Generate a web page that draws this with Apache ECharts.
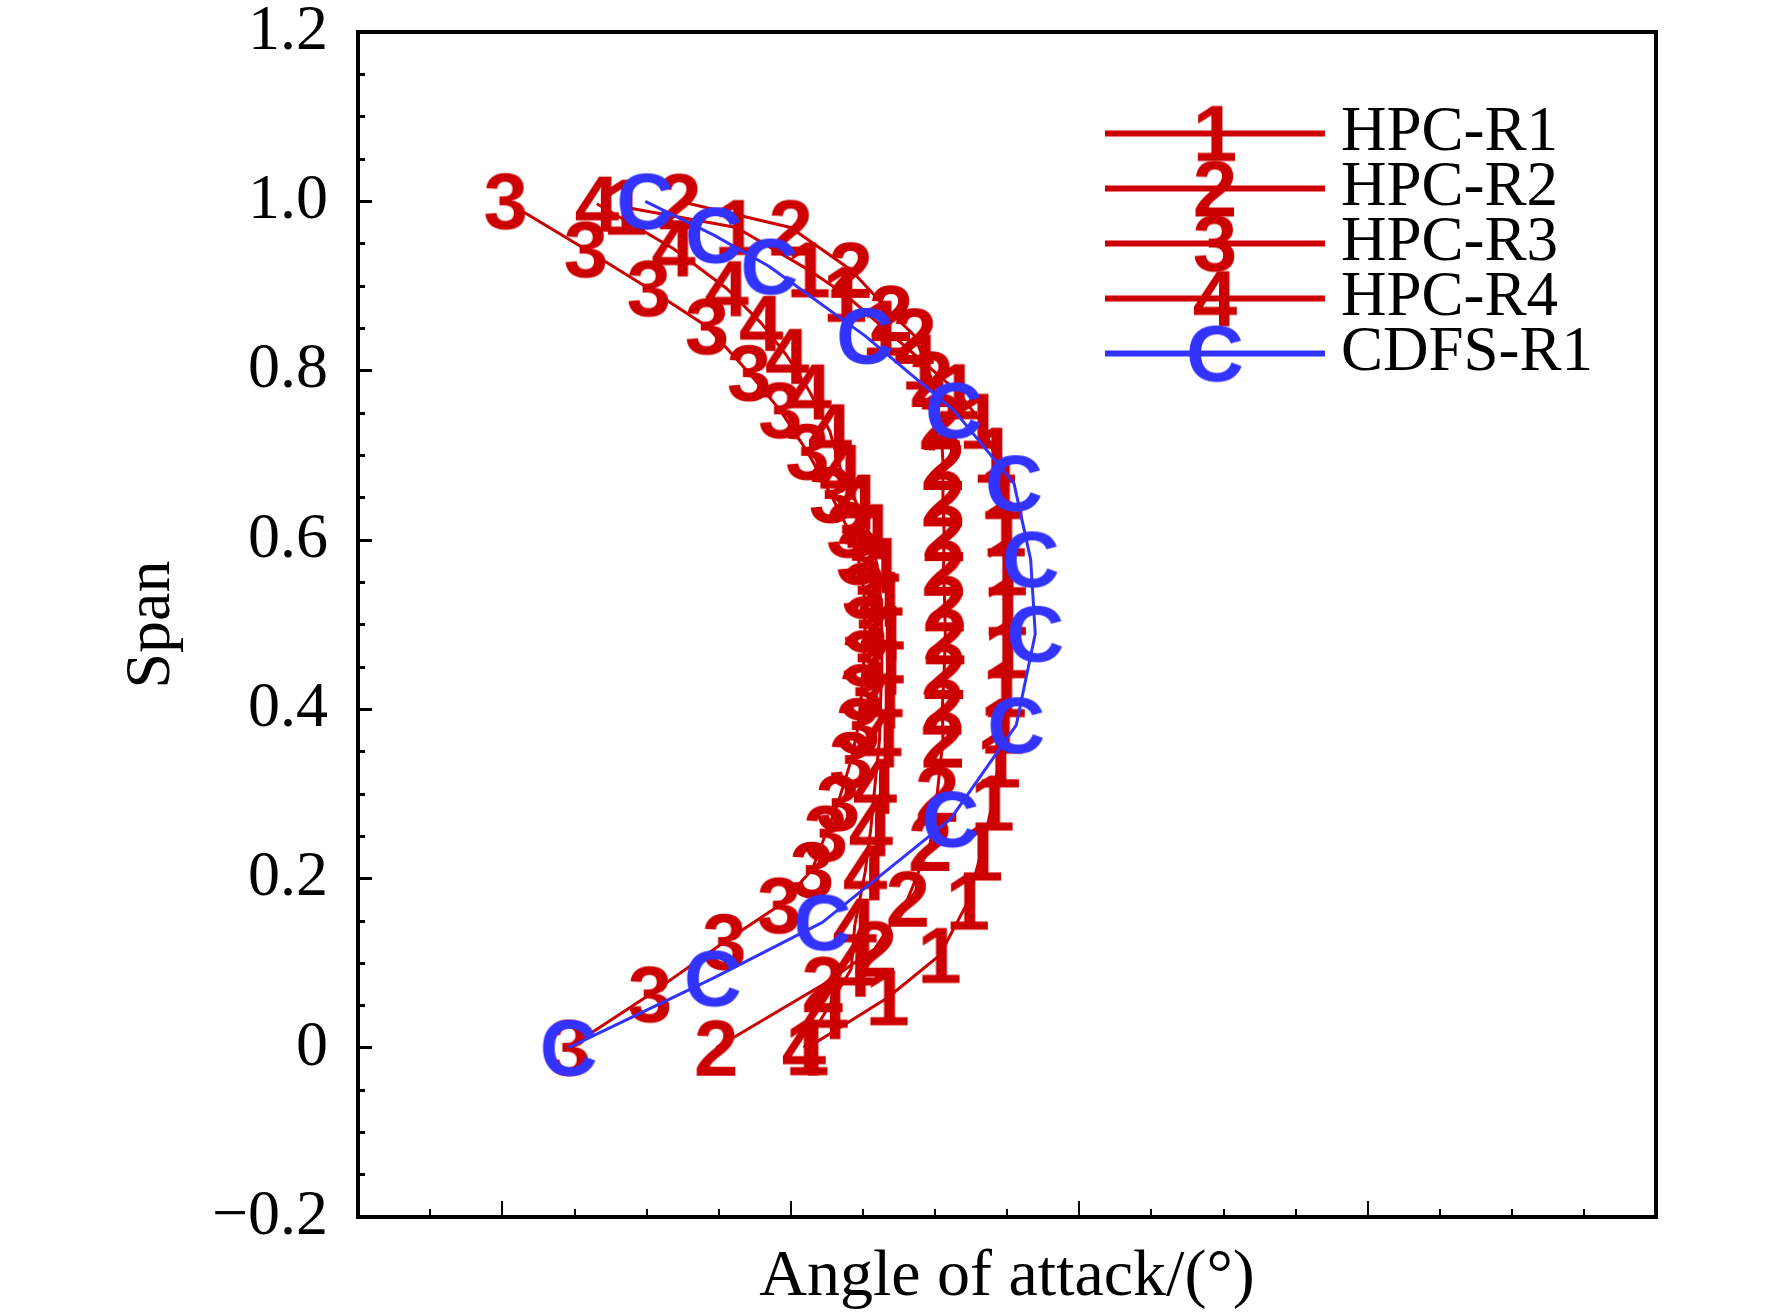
<!DOCTYPE html>
<html>
<head>
<meta charset="utf-8">
<title>Span vs angle of attack</title>
<script src="https://cdn.jsdelivr.net/npm/echarts@6/dist/echarts.min.js"></script>
<style>
html, body { margin: 0; padding: 0; background: #fff; }
#main { width: 1772px; height: 1316px; }
</style>
</head>
<body>
<div id="main"></div>
<script>
// values, span 0 = hub, 1 = tip
var r1Angle = [5.29, 6.68, 7.58, 8.07, 8.30, 8.50, 8.61, 8.67, 8.71, 8.73, 8.73, 8.73, 8.71, 8.67, 8.54, 8.30, 7.89, 7.30, 6.62, 5.94, 5.31, 4.06, 2.13];
var r1Span  = [0, 0.059, 0.109, 0.172, 0.23, 0.289, 0.34, 0.38, 0.423, 0.469, 0.52, 0.567, 0.613, 0.657, 0.70, 0.74, 0.775, 0.81, 0.85, 0.89, 0.919, 0.969, 0.993];

var r2Angle = [3.71, 5.57, 6.46, 7.03, 7.42, 7.54, 7.64, 7.63, 7.66, 7.68, 7.67, 7.65, 7.66, 7.64, 7.64, 7.60, 7.44, 7.15, 6.74, 6.04, 5.00, 3.07];
var r2Span  = [0, 0.075, 0.117, 0.176, 0.242, 0.30, 0.364, 0.403, 0.445, 0.486, 0.525, 0.567, 0.608, 0.649, 0.692, 0.74, 0.79, 0.841, 0.868, 0.919, 0.969, 1.0];

var r3Angle = [1.15, 2.56, 3.85, 4.80, 5.37, 5.61, 5.82, 6.05, 6.17, 6.23, 6.27, 6.29, 6.27, 6.17, 6.00, 5.70, 5.29, 4.82, 4.28, 3.55, 2.54, 1.45, 0.06];
var r3Span  = [0, 0.063, 0.125, 0.168, 0.21, 0.253, 0.289, 0.34, 0.38, 0.42, 0.46, 0.50, 0.54, 0.58, 0.612, 0.653, 0.704, 0.753, 0.797, 0.852, 0.897, 0.943, 1.0];

var r4Angle = [5.23, 5.61, 6.05, 6.11, 6.29, 6.39, 6.46, 6.54, 6.56, 6.58, 6.58, 6.56, 6.50, 6.35, 6.13, 5.88, 5.68, 5.33, 4.94, 4.49, 3.89, 2.97, 1.64];
var r4Span  = [0, 0.043, 0.093, 0.144, 0.207, 0.259, 0.309, 0.364, 0.41, 0.45, 0.49, 0.53, 0.57, 0.61, 0.645, 0.68, 0.728, 0.775, 0.817, 0.856, 0.897, 0.944, 0.997];

var cdfsAngle = [1.15, 3.65, 5.55, 7.77, 8.91, 9.24, 9.16, 8.87, 7.83, 6.29, 4.63, 3.67, 2.48];
var cdfsSpan  = [0, 0.082, 0.148, 0.27, 0.381, 0.489, 0.577, 0.667, 0.753, 0.841, 0.923, 0.96, 1.0];

var seriesNames = ['HPC-R1', 'HPC-R2', 'HPC-R3', 'HPC-R4', 'CDFS-R1'];
var seriesMarks = ['1', '2', '3', '4', 'C'];

// x axis has no labels in the figure, only ticks
var xMajorTicks = [0, 5, 10, 15, 20];
var xMinorTicks = [-1.25, 1.25, 2.5, 3.75, 6.25, 7.5, 8.75, 11.25, 12.5, 13.75, 16.25, 17.5, 18.75];

var RED = '#CC0000';
var BLUE = '#3333FF';

function pairs(xs, ys) {
    var out = [];
    for (var i = 0; i < xs.length; i++) out.push([xs[i], ys[i]]);
    return out;
}

// draw a character marker (and optionally a legend line) onto a canvas
function glyphImage(ch, color, w, h, lineLen) {
    var s = 2;
    var c = document.createElement('canvas');
    c.width = w * s;
    c.height = h * s;
    var ctx = c.getContext('2d');
    ctx.scale(s, s);
    if (lineLen) {
        ctx.strokeStyle = color;
        ctx.lineWidth = 6;
        ctx.beginPath();
        ctx.moveTo(0, h / 2);
        ctx.lineTo(lineLen, h / 2);
        ctx.stroke();
    }
    ctx.font = 'bold 80px "Liberation Sans", Arial, sans-serif';
    ctx.fillStyle = color;
    ctx.textAlign = 'center';
    var m = ctx.measureText(ch);
    var cx = lineLen ? lineLen / 2 : w / 2;
    ctx.fillText(ch, cx, h / 2 + (m.actualBoundingBoxAscent - m.actualBoundingBoxDescent) / 2);
    return 'image://' + c.toDataURL();
}

var chart = echarts.init(document.getElementById('main'));

var allData = [
    pairs(r1Angle, r1Span),
    pairs(r2Angle, r2Span),
    pairs(r3Angle, r3Span),
    pairs(r4Angle, r4Span),
    pairs(cdfsAngle, cdfsSpan)
];

var series = [];
var legendData = [];
for (var k = 0; k < seriesNames.length; k++) {
    var col = k < 4 ? RED : BLUE;
    series.push({
        name: seriesNames[k],
        type: 'line',
        data: allData[k],
        symbol: glyphImage(seriesMarks[k], col, 90, 90),
        symbolSize: 90,
        lineStyle: { color: col, width: 3 },
        itemStyle: { color: col },
        silent: true,
        emphasis: { disabled: true },
        z: 2 + k
    });
    legendData.push({
        name: seriesNames[k],
        icon: glyphImage(seriesMarks[k], col, 231, 62, 220)
    });
}

var serif = '"Liberation Serif", "Times New Roman", serif';

var option = {
    animation: false,
    backgroundColor: '#fff',
    grid: {
        left: 358, right: 116, top: 32, bottom: 96,
        show: true, borderColor: '#000', borderWidth: 4,
        containLabel: false
    },
    legend: {
        orient: 'vertical',
        left: 1105,
        top: 102,
        padding: 0,
        itemWidth: 231,
        itemHeight: 62,
        itemGap: -8,
        selectedMode: false,
        textStyle: { fontFamily: serif, fontSize: 63, lineHeight: 56, color: '#000' },
        data: legendData
    },
    xAxis: [{
        type: 'value',
        min: -2.5,
        max: 20,
        name: 'Angle of attack/(°)',
        nameLocation: 'middle',
        nameGap: 28,
        nameTextStyle: { fontFamily: serif, fontSize: 66, color: '#000', verticalAlign: 'top' },
        axisLine: { show: false, onZero: false },
        axisLabel: { show: false },
        axisTick: { show: true, inside: true, length: 16, customValues: xMajorTicks, lineStyle: { color: '#000', width: 2 } },
        splitLine: { show: false }
    }, {
        type: 'value',
        position: 'bottom',
        min: -2.5,
        max: 20,
        axisLine: { show: false, onZero: false },
        axisLabel: { show: false },
        axisTick: { show: true, inside: true, length: 8, customValues: xMinorTicks, lineStyle: { color: '#000', width: 2 } },
        splitLine: { show: false }
    }],
    yAxis: {
        type: 'value',
        min: -0.2,
        max: 1.2,
        interval: 0.2,
        name: 'Span',
        nameLocation: 'middle',
        nameRotate: 90,
        nameGap: 174,
        nameTextStyle: { fontFamily: serif, fontSize: 64, color: '#000' },
        axisLine: { show: false, onZero: false },
        axisTick: { show: true, inside: true, length: 14, lineStyle: { color: '#000', width: 3 } },
        minorTick: { show: true, splitNumber: 4, length: 7, lineStyle: { color: '#000', width: 3 } },
        axisLabel: {
            margin: 30,
            fontFamily: serif,
            fontSize: 64,
            color: '#000',
            formatter: function (v) {
                if (Math.abs(v) < 1e-9) return '0';
                return (v < 0 ? '\u2212' : '') + Math.abs(v).toFixed(1);
            }
        },
        splitLine: { show: false }
    },
    series: series
};

chart.setOption(option);
</script>
</body>
</html>
